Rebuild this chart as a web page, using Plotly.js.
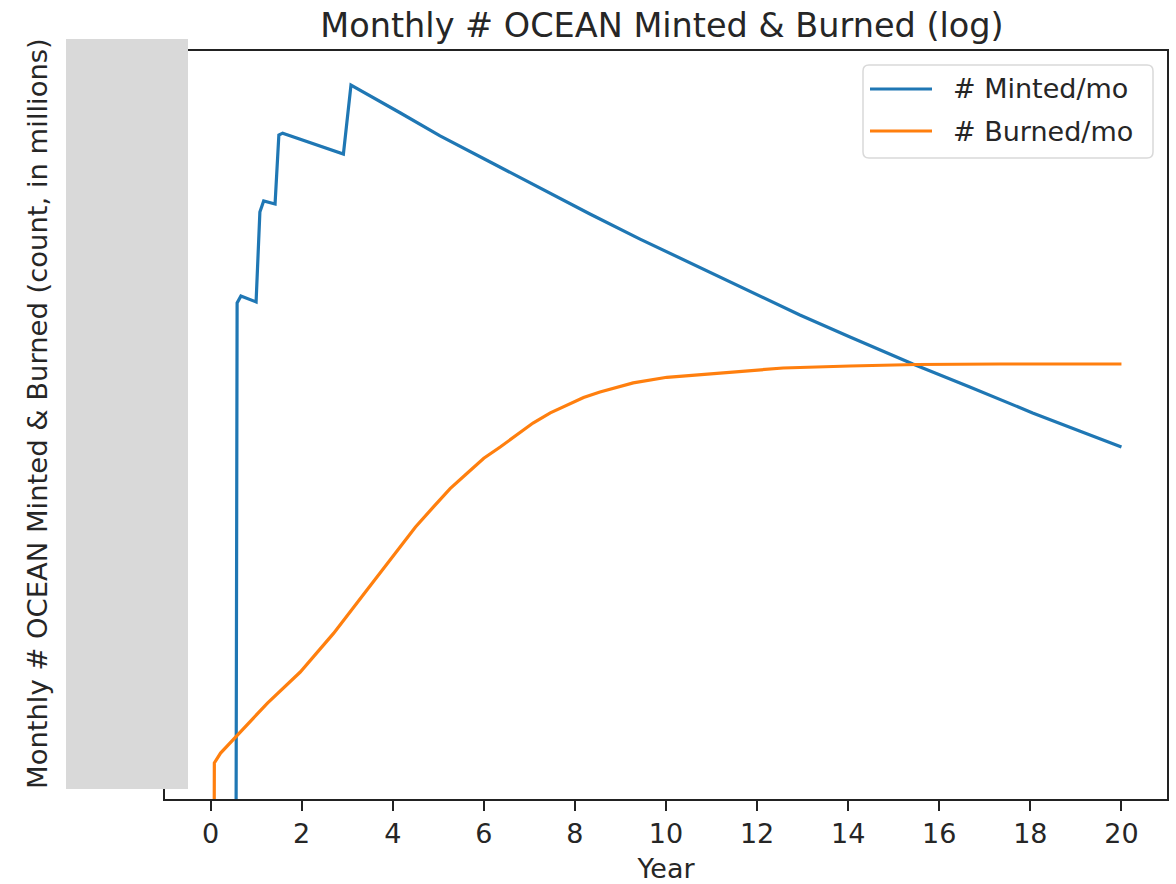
<!DOCTYPE html>
<html>
<head>
<meta charset="utf-8">
<script src="https://cdn.plot.ly/plotly-3.0.1.min.js"></script>
<style>html,body{margin:0;padding:0;background:#fff;}#chart{width:1176px;height:884px;}</style>
</head>
<body>
<div id="chart"></div>
<script>
// Data (values in millions per month; y axis is log)
var yearsMinted = [0, 0.5, 0.5833, 0.6667, 1.0, 1.0833, 1.1667, 1.4167, 1.5, 1.5833, 2.9167, 3.0833,
                   4.17, 5.04, 6.14, 7.24, 8.33, 9.43, 10.53, 11.62, 12.94, 14.04, 15.42, 16.67, 18.05, 19.08, 20];
var minted      = [1e-9, 1e-9, 14.2, 15.5, 14.4, 43.5, 49.9, 48.1, 112.4, 115.0, 88.9, 208,
                   147.4, 111.1, 80.6, 58.5, 42.5, 31.2, 23.2, 17.3, 12.25, 9.35, 6.70, 5.05, 3.67, 2.94, 2.41];

var yearsBurned = [0, 0.0833, 0.22, 0.55, 1.25, 1.97, 2.70, 3.40, 4.10, 4.50, 4.89, 5.26, 5.64, 6.00, 6.36, 6.73,
                   7.08, 7.46, 7.83, 8.19, 8.55, 9.28, 10.02, 11.12, 12.57, 14.04, 15.50, 17.33, 20];
var burned      = [1e-9, 0.0493, 0.0557, 0.0679, 0.103, 0.151, 0.243, 0.405, 0.679, 0.900, 1.151, 1.445, 1.750, 2.10, 2.41, 2.80,
                   3.24, 3.67, 4.05, 4.44, 4.75, 5.31, 5.69, 6.00, 6.38, 6.54, 6.66, 6.70, 6.70];

var seriesNames = ['# Minted/mo', '# Burned/mo'];
var seriesColors = ['#1f77b4', '#ff7f0e'];
var xTickVals = [0, 2, 4, 6, 8, 10, 12, 14, 16, 18, 20];

var FONT = 'DejaVu Sans, Liberation Sans, sans-serif';
var TXT = '#262626';

// plot area in px: x 165..1167, y 51..799
var L = 165, R = 1167, T = 51, B = 799, W = 1176, H = 884;
function px2x(p){ return (p - L) / (R - L); }
function py2y(p){ return (B - p) / (B - T); }

var traces = [
  {x: yearsMinted, y: minted, type: 'scatter', mode: 'lines', name: seriesNames[0],
   line: {color: seriesColors[0], width: 3.2}, showlegend: false, hoverinfo: 'x+y'},
  {x: yearsBurned, y: burned, type: 'scatter', mode: 'lines', name: seriesNames[1],
   line: {color: seriesColors[1], width: 3.2}, showlegend: false, hoverinfo: 'x+y'}
];

// custom legend geometry (paper coords)
var lx0 = px2x(863), lx1 = px2x(1153), ly0 = py2y(158), ly1 = py2y(65);
var rx = 6 / (R - L), ry = 6 / (B - T);
var legendPath = 'M ' + (lx0 + rx) + ' ' + ly1 +
  ' L ' + (lx1 - rx) + ' ' + ly1 + ' Q ' + lx1 + ' ' + ly1 + ' ' + lx1 + ' ' + (ly1 - ry) +
  ' L ' + lx1 + ' ' + (ly0 + ry) + ' Q ' + lx1 + ' ' + ly0 + ' ' + (lx1 - rx) + ' ' + ly0 +
  ' L ' + (lx0 + rx) + ' ' + ly0 + ' Q ' + lx0 + ' ' + ly0 + ' ' + lx0 + ' ' + (ly0 + ry) +
  ' L ' + lx0 + ' ' + (ly1 - ry) + ' Q ' + lx0 + ' ' + ly1 + ' ' + (lx0 + rx) + ' ' + ly1 + ' Z';

var legendRows = [89, 131];
var shapes = [
  // gray redaction box over y tick labels
  {type: 'rect', xref: 'paper', yref: 'paper', x0: px2x(66), x1: px2x(188), y0: py2y(789), y1: py2y(39),
   fillcolor: '#d9d9d9', line: {width: 0}, layer: 'above'},
  {type: 'path', xref: 'paper', yref: 'paper', path: legendPath,
   fillcolor: 'rgba(255,255,255,0.8)', line: {color: '#d9d9d9', width: 1.5}, layer: 'above'}
];
var annotations = [
  {xref: 'paper', yref: 'paper', x: px2x(37), y: py2y(414), text: 'Monthly # OCEAN Minted & Burned (count, in millions)',
   textangle: -90, showarrow: false, xanchor: 'center', yanchor: 'middle',
   font: {family: FONT, size: 27.4, color: TXT}}
];
for (var i = 0; i < seriesNames.length; i++) {
  shapes.push({type: 'line', xref: 'paper', yref: 'paper', x0: px2x(870), x1: px2x(932),
    y0: py2y(legendRows[i]), y1: py2y(legendRows[i]), line: {color: seriesColors[i], width: 3.2}, layer: 'above'});
  annotations.push({xref: 'paper', yref: 'paper', x: px2x(951), y: py2y(legendRows[i]), text: seriesNames[i],
    showarrow: false, xanchor: 'left', yanchor: 'middle', font: {family: FONT, size: 27, color: TXT}});
}

var layout = {
  width: W, height: H,
  margin: {l: L, r: W - R, t: T, b: H - B, pad: 0},
  paper_bgcolor: '#ffffff', plot_bgcolor: '#ffffff',
  showlegend: false,
  title: {text: 'Monthly # OCEAN Minted & Burned (log)', x: px2x(662), xref: 'paper', xanchor: 'center',
          y: 1 - 25 / H, yref: 'container', yanchor: 'middle',
          font: {family: FONT, size: 33.5, color: TXT}},
  xaxis: {range: [-1, 21], tickvals: xTickVals, ticktext: xTickVals.map(String),
          showgrid: false, zeroline: false, showline: true, linecolor: '#222', linewidth: 2, mirror: true,
          ticks: 'outside', ticklen: 10, tickwidth: 2, tickcolor: '#222',
          tickfont: {family: FONT, size: 27, color: TXT},
          title: {text: 'Year', font: {family: FONT, size: 27, color: TXT}, standoff: 12}},
  yaxis: {type: 'log', range: [-1.5, 2.5], showgrid: false, zeroline: false,
          showline: true, linecolor: '#222', linewidth: 2, mirror: true,
          ticks: '', showticklabels: false},
  shapes: shapes,
  annotations: annotations
};

Plotly.newPlot('chart', traces, layout, {displayModeBar: false, staticPlot: true});
</script>
</body>
</html>
